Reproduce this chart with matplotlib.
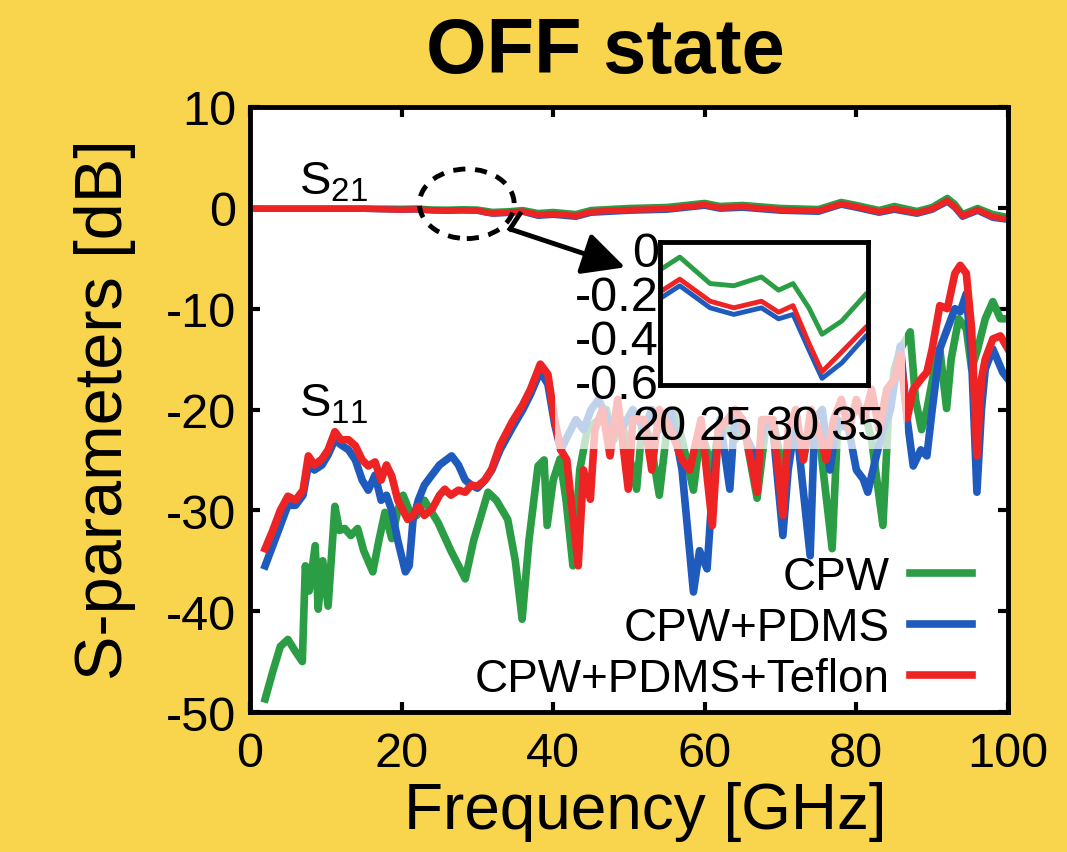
import numpy as np
import matplotlib
matplotlib.use('Agg')
import matplotlib.pyplot as plt
from matplotlib.patches import Ellipse, Rectangle

plt.rcParams['font.family'] = ['Liberation Sans', 'DejaVu Sans']
plt.rcParams['axes.unicode_minus'] = False

# colours of the three samples
labels = ['CPW', 'CPW+PDMS', 'CPW+PDMS+Teflon']
colors = ['#2A9D45', '#1F5BBD', '#EE2424']

# S21 (main panel)
f21 = [0.5, 5, 10, 15, 20, 22, 24, 26, 28, 30, 31, 32, 34, 36, 38, 40, 43, 45, 50, 55, 60, 62,
       65, 70, 75, 78, 80, 83, 85, 88, 90, 92, 93, 94, 96, 98, 100]
s21_cpw = [-0.05, -0.05, -0.05, -0.05, -0.08, -0.05, -0.15, -0.17, -0.13, -0.16, -0.27, -0.39, -0.33,
           -0.21, -0.5, -0.4, -0.6, -0.2, 0.0, 0.1, 0.5, 0.2, 0.3, 0.0, -0.1, 0.6, 0.3, -0.2, 0.2,
           -0.3, 0.1, 1.0, 0.4, -0.6, 0.0, -0.6, -0.9]
s21_pdms = [-0.1, -0.1, -0.1, -0.1, -0.2, -0.17, -0.27, -0.3, -0.27, -0.3, -0.46, -0.59, -0.52,
            -0.4, -0.8, -0.7, -0.9, -0.5, -0.3, -0.2, 0.2, -0.1, 0.0, -0.3, -0.4, 0.3, 0.0, -0.5,
            -0.2, -0.6, -0.2, 0.6, 0.0, -0.9, -0.3, -1.0, -1.2]
s21_teflon = [-0.1, -0.1, -0.1, -0.1, -0.19, -0.15, -0.24, -0.27, -0.24, -0.27, -0.43, -0.56, -0.47,
              -0.36, -0.7, -0.6, -0.8, -0.4, -0.2, -0.1, 0.3, 0.0, 0.1, -0.2, -0.3, 0.4, 0.1, -0.4,
              -0.1, -0.5, -0.1, 0.7, 0.1, -0.8, -0.2, -0.9, -1.1]

# S11 (main panel)
f11_cpw = [2, 3, 4, 5, 6, 6.9, 7.3, 7.8, 8.6, 9, 9.6, 10.3, 11.2, 11.8, 12.5, 13.3, 14.2, 15, 16.2,
           17, 17.8, 18.7, 19.5, 20.2, 21, 22, 23, 24.8, 26.5, 28.4, 29.5, 31.4, 32.5, 34, 35, 35.9,
           36.8, 38, 38.8, 39.2, 40, 40.9, 41.7, 42.6, 43.5, 44.5, 46, 47, 48, 49, 51, 51.8, 52.8,
           54, 55, 56, 57, 58.5, 59.5, 61, 62, 64, 65, 66.9, 68, 69, 70.3, 71.5, 73, 74, 75, 76.8,
           77.5, 79, 80, 81, 82, 83.5, 84.2, 85, 85.8, 87.1, 87.8, 88.6, 89.3, 90.3, 91, 91.9, 92.5,
           93.5, 94.5, 95.2, 96, 97, 98, 99, 100]
s11_cpw = [-48.7, -46, -43.5, -42.8, -44, -45, -35.5, -38, -33.5, -39.8, -35, -39.5, -29.6, -32,
           -31.8, -32.5, -31.8, -34, -36.1, -33, -30.2, -32.8, -30, -28.5, -30, -30.5, -29, -31.2,
           -34, -36.8, -33, -28.2, -29, -30.9, -35, -40.8, -33, -25.6, -25, -31.5, -27, -24.9, -29,
           -35.5, -26, -22, -21, -20, -23, -21, -27.9, -21, -23, -28.5, -22, -20, -23, -28, -22,
           -26, -21, -23, -21, -28.8, -22, -21, -26, -22, -25, -21, -22, -33.8, -22, -21, -20, -20,
           -23, -31.5, -21, -16, -14, -12.3, -19, -22, -20, -16, -14, -19.9, -15, -11, -12, -16,
           -14, -11, -9.3, -11, -11]

f11_pdms = [2, 3, 4, 5, 6, 7, 7.7, 8.5, 9.5, 10.3, 11.2, 12, 13, 13.9, 14.8, 15.6, 16.5, 17.3, 18,
            18.7, 19.5, 20.5, 21, 21.5, 22.2, 23, 24, 25, 26.6, 27.5, 28.4, 29.2, 30, 31, 31.9, 33,
            34.6, 36, 37, 38.3, 39.3, 40.2, 41, 42, 43, 44, 45, 46, 47.5, 49, 50.5, 52, 53, 54, 55.5,
            57, 58.5, 59.3, 60.3, 61, 62, 63.3, 64, 65, 66.9, 68, 69, 70.3, 71, 72, 73.9, 74.5, 75.5,
            76.5, 77.5, 79, 80, 80.9, 81.5, 82.5, 83.5, 84.5, 85.3, 85.8, 86.7, 87.5, 88.5, 89.3, 90,
            91, 92, 93, 93.7, 94.5, 95.2, 95.9, 96.5, 97, 98, 99.3, 100]
s11_pdms = [-35.5, -33.5, -31.5, -29.5, -29.5, -28.5, -25.5, -26, -25.5, -24.5, -23, -23.5, -24, -25,
            -27, -28, -26.5, -29, -28.5, -30, -33, -36.1, -35.5, -31, -29, -27.5, -26.5, -25.5,
            -24.6, -25.5, -27, -27.5, -27.8, -27, -26, -24, -21.8, -20, -18.5, -16.2, -17.5, -21.5,
            -24, -22.5, -21, -22, -20, -19, -21.5, -22, -20, -22, -20, -22, -20, -26, -38.1, -34,
            -35.8, -28, -21, -27.9, -20, -22, -25, -21, -22, -32.5, -26, -21, -34.5, -21, -20, -26,
            -21, -22, -26, -26.9, -28.2, -25, -22, -20, -16, -13.7, -21, -25.6, -24, -24.6, -20,
            -14, -12, -10, -10.3, -8.5, -15, -28.2, -20, -16, -14, -16.3, -17]

f11_teflon = [2, 3, 4, 5, 6, 7, 7.7, 8.5, 9.5, 10.3, 11.2, 12, 13, 13.9, 14.8, 15.6, 16.5, 17.3, 18,
              18.7, 19.5, 20.8, 21.5, 22.2, 23, 24, 25, 25.7, 26.5, 27.5, 28.4, 29.2, 30, 31, 31.9,
              33, 34.6, 36, 37, 38.3, 39.3, 40.2, 41, 41.8, 42.5, 43.3, 44, 44.9, 45.5, 46.5, 47.5,
              48.5, 49.9, 50.5, 52, 53, 54, 55.5, 57, 58, 59.5, 61, 61.8, 63, 64, 65, 66.9, 67.5, 69,
              70.3, 71, 72, 73, 74, 75, 76, 77, 78, 79, 80, 81, 82, 83, 84, 85, 85.8, 86.7, 87.5,
              88.5, 89.3, 90, 91, 92, 93, 93.7, 94.5, 95.2, 95.9, 96.5, 97, 98, 99, 100]
s11_teflon = [-33.8, -32, -30, -28.6, -29, -28, -24.6, -25.5, -24.9, -24, -22.2, -23, -23, -23.6, -25,
              -25.6, -25.2, -27, -25.5, -26.6, -29, -30.9, -30.5, -29.6, -30.5, -29.9, -28.5, -27.9,
              -28.5, -28, -28.2, -27.5, -27.6, -27, -25.9, -23.5, -21.2, -19.5, -18, -15.5, -16.5,
              -21, -24, -25, -30, -35.5, -26, -28.9, -22, -20, -24.6, -19, -27.9, -21, -21, -26, -20,
              -22, -25, -26, -21, -31.5, -22, -21, -20, -21, -28.2, -21, -21, -30.5, -22, -20, -25,
              -20, -22, -25, -21, -19, -22, -19, -21, -18, -22, -18, -17, -14.5, -20.9, -18, -17,
              -16.3, -14, -9.7, -10, -6.5, -5.7, -6.5, -12, -24.6, -17, -15, -13, -12.7, -14]

# inset: zoom of S21 between 20 and 36 GHz
f_in = [20.2, 21.5, 23.8, 25.6, 27.7, 29, 30.1, 31.3, 32.3, 33.8, 35.6]
in_cpw = [-0.09, -0.04, -0.16, -0.17, -0.13, -0.19, -0.16, -0.27, -0.39, -0.33, -0.21]
in_pdms = [-0.22, -0.17, -0.27, -0.30, -0.27, -0.32, -0.30, -0.46, -0.59, -0.52, -0.40]
in_teflon = [-0.19, -0.14, -0.24, -0.27, -0.24, -0.29, -0.26, -0.43, -0.56, -0.47, -0.36]

x_ticks = [0, 20, 40, 60, 80, 100]
y_ticks = [10, 0, -10, -20, -30, -40, -50]
in_xticks = [20, 25, 30, 35]
in_yticks = [0, -0.2, -0.4, -0.6]

bg = '#F8D54C'
fig = plt.figure(figsize=(10.67, 8.53), dpi=100, facecolor=bg)
ax = fig.add_axes([0.2343, 0.1641, 0.7104, 0.7093])
ax.set_facecolor('white')

s11 = [(f11_cpw, s11_cpw), (f11_pdms, s11_pdms), (f11_teflon, s11_teflon)]
s21 = [s21_cpw, s21_pdms, s21_teflon]
for (ff, vv), c, lab in zip(s11, colors, labels):
    ax.plot(ff, vv, color=c, lw=5.5, label=lab)
for v21, c in zip(s21, colors):
    ax.plot(f21, v21, color=c, lw=4.5)

ax.set_xlim(0, 100)
ax.set_ylim(-50, 10)
ax.set_xticks(x_ticks)
ax.set_yticks(y_ticks)
ax.tick_params(direction='in', length=7, width=3, top=True, right=True,
               labelsize=35, pad=10)
ax.tick_params(axis='x', pad=14)
for sp in ax.spines.values():
    sp.set_linewidth(3.5)

# faded box behind the inset and its tick labels
ax.add_patch(Rectangle((0.402, 0.435), 0.462, 0.372, transform=ax.transAxes,
                       facecolor='white', alpha=0.72, edgecolor='none', zorder=3))

# dashed ellipse and arrow
ax.add_patch(Ellipse((28.6, 0.4), 12.5, 6.9, fill=False, ls=(0, (2.5, 2)), lw=3.5,
                     edgecolor='black', zorder=5))
ax.plot([35.6, 34.3], [-0.6, -2.1], color='black', lw=3.5, zorder=5)
ax.annotate('', xy=(49.5, -5.9), xytext=(34.3, -2.1),
            arrowprops=dict(arrowstyle='-|>', lw=3.5, color='black', mutation_scale=65,
                            shrinkA=0, shrinkB=0), zorder=5)

ax.text(6.5, 1.4, r'S$_{\mathregular{21}}$', fontsize=34, zorder=6)
ax.text(6.5, -20.6, r'S$_{\mathregular{11}}$', fontsize=34, zorder=6)

leg = ax.legend(loc='lower right', bbox_to_anchor=(0.995, -0.035), frameon=False,
                markerfirst=False, fontsize=33, handlelength=1.35, handletextpad=0.45,
                labelspacing=0.15, borderpad=0.2)
leg.set_zorder(7)

# inset
axi = fig.add_axes([0.6186, 0.5475, 0.1950, 0.1680])
axi.set_facecolor('white')
for ii, c in zip([in_cpw, in_pdms, in_teflon], colors):
    axi.plot(f_in, ii, color=c, lw=3.5)
axi.set_xlim(20, 35.8)
axi.set_ylim(-0.62, 0.03)
axi.set_xticks(in_xticks)
axi.set_yticks(in_yticks)
axi.set_yticklabels(['0', '-0.2', '-0.4', '-0.6'])
axi.tick_params(length=0, labelsize=35, pad=1)
axi.tick_params(axis='x', pad=14)
for sp in axi.spines.values():
    sp.set_linewidth(3.5)

fig.text(0.567, 1 - 52 / 853, 'OFF state', fontsize=56, fontweight='bold',
         ha='center', va='center')
fig.text(0.605, 1 - 812 / 853, 'Frequency [GHz]', fontsize=46, ha='center', va='center')
fig.text(0.098, 1 - 410 / 853, 'S-parameters [dB]', fontsize=48, rotation=90,
         ha='center', va='center')

fig.savefig('out.png', dpi=100, facecolor=bg)
